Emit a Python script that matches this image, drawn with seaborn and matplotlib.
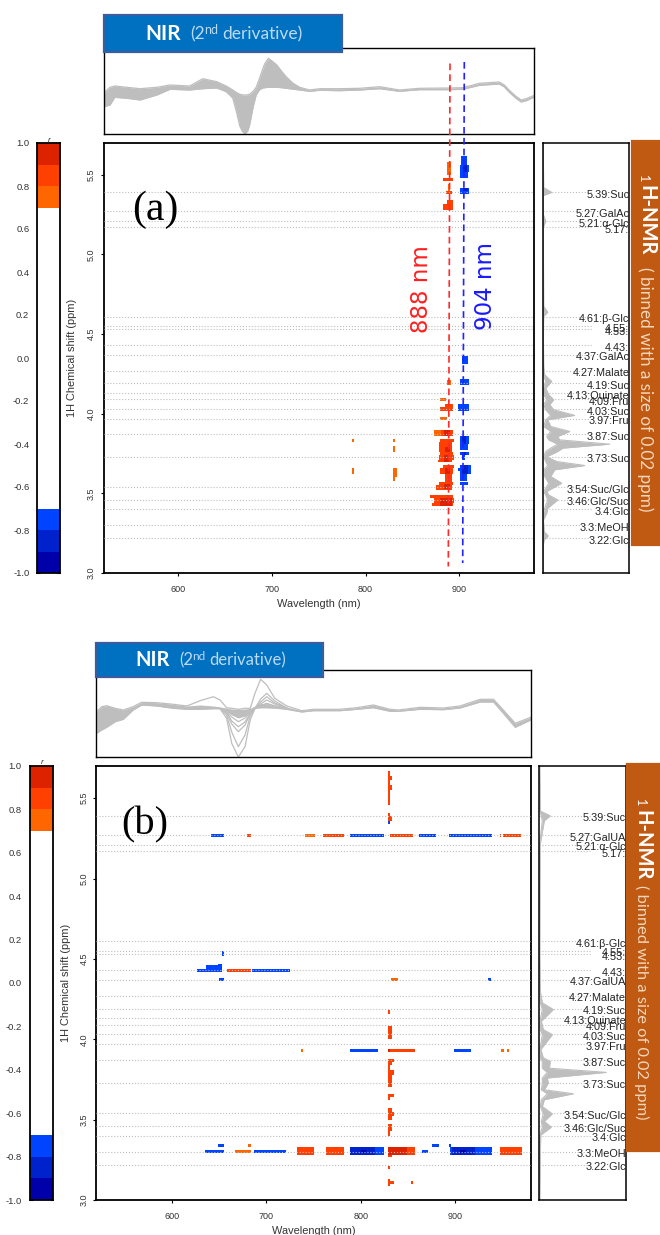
import numpy as np
import pandas as pd
import matplotlib
matplotlib.use("Agg")
import matplotlib.pyplot as plt
import seaborn as sns
from matplotlib.colors import ListedColormap
from matplotlib.lines import Line2D
from matplotlib.patches import Rectangle

# NMR peak assignments, the names are cut off by the orange banner in the picture
nmr_ppm = [5.39, 5.27, 5.21, 5.17, 4.61, 4.55, 4.53, 4.43, 4.37, 4.27, 4.19,
           4.13, 4.09, 4.03, 3.97, 3.87, 3.73, 3.54, 3.46, 3.4, 3.3, 3.22]
nmr_a = ["5.39:Suc", "5.27:GalAc", "5.21:α-Glc", "5.17:", "4.61:β-Glc", "4.55:", "4.53:", "4.43:",
         "4.37:GalAc", "4.27:Malate", "4.19:Suc", "4.13:Quinate", "4.09:Fru", "4.03:Suc", "3.97:Fru",
         "3.87:Suc", "3.73:Suc", "3.54:Suc/Glc", "3.46:Glc/Suc", "3.4:Glc", "3.3:MeOH", "3.22:Glc"]
nmr_b = ["5.39:Suc", "5.27:GalUA", "5.21:α-Glc", "5.17:", "4.61:β-Glc", "4.55:", "4.53:", "4.43:",
         "4.37:GalUA", "4.27:Malate", "4.19:Suc", "4.13:Quinate", "4.09:Fru", "4.03:Suc", "3.97:Fru",
         "3.87:Suc", "3.73:Suc", "3.54:Suc/Glc", "3.46:Glc/Suc", "3.4:Glc", "3.3:MeOH", "3.22:Glc"]

# NIR spectra (a): envelope of the curves
nir_a_wl = [520.5, 527, 532, 545, 559, 577, 591, 612, 626, 641, 651, 658, 662, 665.5, 668, 671, 674, 676, 680, 683,
            686, 689, 692, 696, 700, 705, 710, 715, 722, 729.5, 740, 751, 772, 793.5, 815, 836, 857.5, 889.5,
            903.5, 921.5, 942.5, 948, 953, 960, 966, 972, 980]
nir_a_top = [-2.7, 2.7, 4, 2.7, 1.3, 2.7, 5, 4, 11.3, 8.3, 4, 0, -2.5, -4.3, -4.8, -5, -4.8, -4.3, -1, 2.7,
             10, 18.3, 26, 31.7, 29, 25, 19, 13.3, 7, 2.7, 0, 1.3, 1.3, 1.7, 3.3, 0, 1.7, 2,
             2.3, 6.7, 8, 5, 0, -6, -10, -8.5, -5.3]
nir_a_low = [-16.7, -15, -7.3, -8.3, -10, -5, 0.7, 0, 1.3, 2, -1.7, -8, -22, -36, -41, -44, -41, -35, -16, -5,
             -0.5, 1.7, 2.3, 2.7, 2.7, 2.7, 2.3, 1.7, 0.8, 0, -1.3, -0.3, -0.7, 0, 1.3, -1.3, 0.3, 0.3,
             0.7, 4.7, 6, 3, -2, -8, -12, -10.5, -7]

# NIR spectra (b): envelope of all curves and the dense core of the band
nir_b_wl = [520.4, 525.7, 531, 540, 548.6, 559, 568, 584, 601.6, 616, 630, 644, 651, 658, 663.4, 670.4, 677.5,
            683, 688, 694, 700.5, 709, 721.7, 737.6, 750, 778, 796, 813.4, 831, 840, 863, 887.6, 905, 926.5,
            940.6, 951, 963.6, 980]
nir_b_top = [-1.7, 3.3, 4.3, 1.7, 0, 3.3, 7.7, 7.3, 5.7, 4, 9.3, 13.3, 10, 2.3, 1.7, 0.7, 1.7,
             1.7, 16.7, 30.7, 25, 11.7, 4, -0.7, 0.7, 0.7, 2.3, 5, 0.7, 0, 2.7, 2, 4, 10.7,
             10.7, 0, -13.3, -7.3]
nir_b_low = [-23.3, -20, -17.3, -11.7, -9.3, 0, 5, 4, 1.7, 0.7, 0.7, 1.3, 1.3, -8.3, -33.3, -47, -36.7,
             -10, 1.7, 2.3, 2.3, 2, 0.7, -2, -0.7, -0.7, 0.7, 2.3, -1.3, -1.3, 0.7, 0.3, 2, 8,
             8, -3.3, -17.3, -10]
nir_b_core_top = [-1.7, 3.3, 4.3, 1.7, 0, 3.3, 7.7, 7.3, 5.7, 4, 5, 4, 3, 2, 1, 0.7, 1,
                  1.7, 4, 6, 6, 4, 3, -0.7, 0.7, 0.7, 2.3, 5, 0.7, 0, 2.7, 2, 4, 10.7,
                  10.7, 0, -13.3, -7.3]
nir_b_core_low = [-23.3, -20, -17.3, -11.7, -9.3, 0, 5, 4, 1.7, 0.7, 0.7, 1.3, 1.3, -1, -5, -8, -6,
                  -2, 1.7, 2.3, 2.3, 2, 0.7, -2, -0.7, -0.7, 0.7, 2.3, -1.3, -1.3, 0.7, 0.3, 2, 8,
                  8, -3.3, -17.3, -10]

# single curves that stand out from the band in (b)
nir_b_mid_wl = [644, 651, 658, 663.4, 670.4, 677.5, 683, 688, 694, 700.5, 709, 721.7]
nir_b_mid1 = [2, 1.5, -5, -22, -36.7, -25, -6, 1.5, 5, 6, 4, 1.5]
nir_b_mid2 = [2, 1.5, -3, -14, -21.7, -15, -4, 1.5, 11, 16.7, 9, 2]
nir_b_mid3 = [2, 1.5, -2, -11, -16.7, -12, -3, 1.5, 8, 13.3, 7, 2]
nir_b_mid4 = [2, 1.5, -1, -7, -11.7, -8, -2, 1.5, 6, 10, 6, 2]
nir_b_mid5 = [2, 1.5, 0, -4, -7.3, -5, -1, 1.5, 4, 6.7, 4, 2]

# 1H-NMR traces: ppm, left and right edge of the grey trace
side_a_ppm = [3.0, 3.176, 3.208, 3.233, 3.26, 3.333, 3.375, 3.407, 3.459, 3.49, 3.512, 3.564, 3.606, 3.648, 3.675,
              3.70, 3.73, 3.763, 3.784, 3.809, 3.836, 3.857, 3.889, 3.92, 3.962, 3.99, 4.025, 4.057, 4.088, 4.119,
              4.161, 4.203, 4.245, 4.298, 4.507, 4.612, 4.637, 4.675, 5.17, 5.21, 5.25, 5.37, 5.39, 5.42, 5.7]
side_a_low = [0.3, 0.3, 0.5, 1, 0.5, 0.3, 0.5, 2, 5, 3, 1, 6, 2, 1, 5,
              3, 1, 3, 8, 15, 6, 4, 8, 1, 3, 8, 3, 1, 4, 1,
              0.5, 3, 0.5, 0.5, 0.3, 0.5, 1, 0.5, 0.3, 1, 0.3, 0.5, 1, 0.5, 0.3]
side_a_high = [0.5, 0.5, 1.5, 5.5, 1.5, 0.7, 4, 5, 15, 6, 4, 19, 8, 12, 42,
               14, 4, 15, 20, 67, 17, 15, 27, 8, 5, 32, 11, 7, 11, 6,
               3, 9, 2, 1, 0.6, 1, 5, 1, 0.6, 3, 0.6, 0.7, 9, 1, 0.5]

side_b_ppm = [3.0, 3.198, 3.239, 3.30, 3.405, 3.453, 3.489, 3.536, 3.582, 3.624, 3.661, 3.686, 3.728, 3.759, 3.794,
              3.82, 3.863, 3.884, 3.936, 4.029, 4.06, 4.112, 4.185, 4.227, 4.29, 4.5, 5.21, 5.36, 5.39, 5.42, 5.57, 5.7]
side_b_low = [0.3, 0.5, 0.5, 0.5, 0.5, 3, 2, 4, 1, 2, 8, 2, 3, 3, 8,
              3, 3, 1, 0.7, 3, 1, 0.7, 3, 1, 0.7, 0.3, 0.3, 3, 2, 0.6, 0.5, 0.3]
side_b_high = [0.5, 1, 1, 1, 1.5, 12, 5, 13, 3, 5, 34, 5, 9, 8, 67,
               10, 11, 4, 1.5, 13, 4, 2, 14, 3, 1.2, 0.5, 0.8, 5, 11, 1, 0.8, 0.4]

# correlation blocks (ppm from, ppm to, nm from, nm to), one list per colour class of r
a_pos75 = [(5.50, 5.58, 887, 891), (5.40, 5.44, 888, 890), (3.82, 3.84, 786, 788), (3.62, 3.66, 786, 788),
           (3.82, 3.84, 829, 831), (3.76, 3.80, 829, 831), (3.58, 3.66, 829, 831), (3.60, 3.66, 831, 834),
           (4.08, 4.10, 880, 886), (3.96, 3.98, 880, 887), (3.86, 3.90, 873, 881), (4.18, 4.21, 887, 891)]
a_pos85 = [(5.46, 5.48, 883, 893), (5.38, 5.40, 886, 892), (5.28, 5.32, 883, 893), (5.32, 5.34, 887, 893),
           (4.04, 4.06, 885, 893), (4.02, 4.04, 880, 893), (3.86, 3.90, 881, 893), (3.82, 3.84, 880, 895),
           (3.76, 3.82, 878, 892), (3.74, 3.76, 880, 893), (3.71, 3.74, 879, 895), (3.70, 3.71, 877, 892),
           (3.66, 3.68, 883, 894), (3.62, 3.66, 880, 893), (3.57, 3.62, 885, 892), (3.55, 3.57, 878, 893),
           (3.52, 3.55, 875, 892), (3.47, 3.49, 869, 893), (3.44, 3.47, 873, 895), (3.42, 3.44, 871, 893)]
a_pos95 = [(3.42, 3.47, 880, 892), (3.86, 3.90, 884, 890), (3.76, 3.79, 885, 890), (3.70, 3.74, 884, 889),
           (3.62, 3.66, 885, 890), (3.53, 3.56, 884, 890)]
a_neg75 = [(5.56, 5.62, 902, 908), (5.52, 5.56, 901, 911), (5.48, 5.52, 901, 909), (5.38, 5.42, 901, 911),
           (4.31, 4.36, 903, 910), (4.18, 4.22, 901, 911), (4.02, 4.06, 899, 911), (3.81, 3.86, 901, 911),
           (3.77, 3.81, 901, 910), (3.74, 3.76, 901, 911), (3.71, 3.74, 903, 906), (3.62, 3.68, 901, 913),
           (3.64, 3.66, 899, 901), (3.58, 3.62, 901, 908), (3.55, 3.57, 901, 910)]
a_neg85 = [(5.52, 5.56, 904, 908), (5.40, 5.42, 904, 909), (3.62, 3.68, 903, 909), (3.81, 3.86, 903, 907),
           (3.74, 3.76, 903, 907)]

b_pos75 = [(5.26, 5.28, 741, 752), (4.36, 4.38, 832, 840), (3.92, 3.94, 737, 739), (3.92, 3.94, 949, 952),
           (3.92, 3.94, 955, 957), (3.29, 3.31, 667, 684), (3.33, 3.35, 681, 684)]
b_pos85 = [(5.46, 5.67, 829, 831), (5.61, 5.645, 831, 833), (5.55, 5.58, 831, 833), (5.36, 5.41, 829, 831),
           (5.36, 5.39, 831, 833), (5.26, 5.28, 680, 684), (5.26, 5.28, 760, 782), (5.26, 5.28, 831, 855),
           (5.26, 5.28, 947, 949), (5.26, 5.28, 951, 970), (4.42, 4.44, 658, 684), (4.16, 4.18, 829, 831),
           (4.05, 4.08, 829, 833), (4.00, 4.05, 829, 833), (3.92, 3.94, 831, 858), (3.86, 3.88, 829, 835),
           (3.84, 3.86, 829, 833), (3.81, 3.84, 829, 831), (3.78, 3.81, 829, 835), (3.70, 3.78, 829, 833),
           (3.62, 3.665, 829, 831), (3.645, 3.665, 831, 835), (3.50, 3.57, 829, 833), (3.52, 3.55, 833, 835),
           (3.43, 3.47, 829, 833), (3.40, 3.43, 829, 831), (3.28, 3.33, 733, 750), (3.28, 3.33, 763, 782),
           (3.28, 3.33, 849, 858), (3.27, 3.28, 829, 833), (3.28, 3.33, 947, 971), (3.19, 3.21, 829, 831),
           (3.09, 3.13, 829, 831), (3.105, 3.125, 831, 835), (3.105, 3.125, 853, 855)]
b_pos95 = [(3.92, 3.94, 829, 831), (3.28, 3.33, 829, 849)]
b_neg75 = [(5.34, 5.36, 829, 831), (5.26, 5.28, 641, 655), (5.26, 5.28, 789, 825), (5.26, 5.28, 862, 880),
           (5.26, 5.28, 894, 939), (4.52, 4.55, 653, 655), (4.42, 4.44, 627, 653), (4.44, 4.455, 636, 653),
           (4.455, 4.47, 649, 653), (4.42, 4.44, 685, 725), (4.36, 4.38, 650, 655), (4.36, 4.38, 935, 938),
           (3.92, 3.94, 789, 818), (3.92, 3.94, 899, 917), (3.33, 3.35, 649, 655), (3.29, 3.31, 635, 655),
           (3.29, 3.31, 687, 721), (3.28, 3.33, 815, 825), (3.29, 3.31, 865, 871), (3.33, 3.35, 876, 883),
           (3.33, 3.35, 894, 896), (3.28, 3.33, 895, 939)]
b_neg85 = [(3.28, 3.33, 789, 815), (3.28, 3.33, 897, 921)]
b_neg95 = [(3.29, 3.31, 800, 806), (3.29, 3.31, 905, 912)]

r_ticks = [-1.0, -0.8, -0.6, -0.4, -0.2, 0.0, 0.2, 0.4, 0.6, 0.8, 1.0]
ppm_ticks = [3.0, 3.5, 4.0, 4.5, 5.0, 5.5]
wl_ticks = [600, 700, 800, 900]

sns.set_theme(style="white")
plt.rcParams["font.family"] = ["Liberation Sans", "DejaVu Sans"]

W, H = 660, 1235
fig = plt.figure(figsize=(W / 100, H / 100), dpi=100)

r_colors = ["#0000AA", "#0022CC", "#0044FF"] + ["#FFFFFF"] * 14 + ["#FF6600", "#FF4000", "#DD2200"]
r_cmap = ListedColormap(r_colors)
GREY = "#BEBEBE"
TXT = "#333333"

wl_grid = np.arange(520, 980)
ppm_grid = np.round(np.arange(3.0, 5.7, 0.01), 2)


def axes_px(left, top, right, bottom):
    return fig.add_axes([left / W, 1 - bottom / H, (right - left) / W, (bottom - top) / H])


def box(ax, lw=1.2):
    for s in ax.spines.values():
        s.set_visible(True)
        s.set_color("black")
        s.set_linewidth(lw)


def block_table(groups):
    grid = np.full((len(ppm_grid), len(wl_grid)), np.nan)
    for r, blocks in groups:
        for p0, p1, w0, w1 in blocks:
            i0, i1 = int(round((p0 - 3.0) / 0.01)), int(round((p1 - 3.0) / 0.01))
            j0, j1 = w0 - 520, w1 - 520
            grid[i0:max(i1, i0 + 1), j0:max(j1, j0 + 1)] = r
    return pd.DataFrame(grid, index=ppm_grid, columns=wl_grid)


def draw_colorbar(left, right, top, bottom, label_x):
    ax = axes_px(left, top, right, bottom)
    levels = pd.DataFrame({"r": np.arange(-0.95, 1.0, 0.1)})
    sns.heatmap(levels, ax=ax, cmap=r_cmap, vmin=-1, vmax=1, cbar=False, xticklabels=False, yticklabels=False)
    ax.set_ylim(0, 20)
    box(ax, 1.3)
    ax.set_yticks([(v + 1) * 10 for v in r_ticks])
    ax.set_yticklabels(["%.1f" % v for v in r_ticks], fontsize=6.8, color=TXT)
    ax.tick_params(axis="y", left=True, right=True, direction="in", length=2.2, width=0.8, pad=5.5, color="#222222")
    fig.text(label_x / W, 1 - (top - 3) / H, "r", fontsize=6, style="italic", color=TXT, ha="center", va="center")


def draw_map(pos, groups, ylab_y, ylab_x):
    ax = axes_px(*pos)
    sns.heatmap(block_table(groups), ax=ax, cmap=r_cmap, vmin=-1, vmax=1, cbar=False,
                xticklabels=False, yticklabels=False)
    ax.set_ylim(0, len(ppm_grid))
    box(ax, 1.3)
    for p in nmr_ppm:
        ax.axhline((p - 3.0) / 0.01, color=GREY, ls=":", lw=0.8, zorder=3)
    ax.set_xticks([w - 520 for w in wl_ticks])
    ax.set_xticklabels(wl_ticks, fontsize=6.5, color=TXT, rotation=0)
    ax.set_yticks([(p - 3.0) / 0.01 for p in ppm_ticks])
    ax.set_yticklabels(["%.1f" % p for p in ppm_ticks], fontsize=6.5, color=TXT, rotation=90, va="center")
    ax.tick_params(axis="x", bottom=True, length=2.5, width=0.8, pad=6, color="black")
    ax.tick_params(axis="y", left=True, length=2.5, width=0.8, pad=3, color="black")
    ax.set_xlabel("Wavelength (nm)", fontsize=7.9, color=TXT, labelpad=3.5)
    ax.set_ylabel("")
    fig.text(ylab_x / W, 1 - ylab_y / H, "1H Chemical shift (ppm)", fontsize=7.9, color=TXT,
             rotation=90, ha="center", va="center")
    return ax


def draw_nir(pos, wl, top, low, ylim, fill_top=None, fill_low=None, extra=None):
    ax = axes_px(*pos)
    ax.fill_between(wl, fill_low or low, fill_top or top, color=GREY, lw=0)
    frame = [pd.DataFrame({"wl": wl, "v": top, "curve": "top"}), pd.DataFrame({"wl": wl, "v": low, "curve": "low"})]
    if extra:
        for k, (w, v) in enumerate(extra):
            frame.append(pd.DataFrame({"wl": w, "v": v, "curve": "c%d" % k}))
    sns.lineplot(data=pd.concat(frame), x="wl", y="v", units="curve", estimator=None, color=GREY,
                 lw=0.9, ax=ax, legend=False)
    ax.set_xlim(520, 980)
    ax.set_ylim(*ylim)
    ax.set(xticks=[], yticks=[], xlabel="", ylabel="")
    box(ax, 1.0)


def draw_side(pos, ppm, low, high, labels):
    ax = axes_px(*pos)
    ax.fill_betweenx(ppm, low, high, color=GREY, lw=0)
    sns.lineplot(x=high, y=ppm, orient="y", sort=False, estimator=None, color=GREY, lw=0.8, ax=ax)
    sns.lineplot(x=low, y=ppm, orient="y", sort=False, estimator=None, color=GREY, lw=0.8, ax=ax)
    ax.set_xlim(0, pos[2] - pos[0])
    ax.set_ylim(3.0, 5.7)
    ax.set(xticks=[], yticks=[], xlabel="", ylabel="")
    box(ax, 1.1)
    for p, lab in zip(nmr_ppm, labels):
        ax.plot([0, 0.58 * (pos[2] - pos[0])], [p, p], color=GREY, ls=":", lw=0.8)
        ax.annotate(lab, (pos[2] - pos[0], p), xytext=(0, -1.9), textcoords="offset points", ha="right", va="center",
                    fontsize=7.8, color="#222222", annotation_clip=False, clip_on=True)


def banner(x0, y0, x1, y1, face, edge=None):
    fig.add_artist(Rectangle((x0 / W, 1 - y1 / H), (x1 - x0) / W, (y1 - y0) / H, transform=fig.transFigure,
                             facecolor=face, edgecolor=edge or face, linewidth=1.6, zorder=5))


def ptext(x, y, s, **kw):
    fig.text(x / W, 1 - y / H, s, zorder=6, **kw)


def nir_title(nir_x, y, size, paren_x, nd_x, der_x):
    ptext(nir_x, y, "NIR", fontsize=size, fontweight="bold", color="white", family="Lato", ha="left", va="center")
    sub = dict(color="#BCDAF2", family="Lato", fontweight="normal", ha="left", va="center")
    ptext(paren_x, y, "(2", fontsize=size - 2.5, **sub)
    ptext(nd_x, y - 4, "nd", fontsize=size - 6, **sub)
    ptext(der_x, y, "derivative)", fontsize=size - 2.5, **sub)


def nmr_title(x, y_one, y_h, y_phrase, size):
    kw = dict(rotation=-90, ha="center", family="Lato", va="top")
    ptext(x - 3, y_one, "1", fontsize=9, color="white", **kw)
    ptext(x, y_h, "H-NMR", fontsize=14.5, fontweight="bold", color="white", **kw)
    ptext(x - 1, y_phrase, "( binned with a size of 0.02 ppm)", fontsize=size, color="#F2D6BC",
          fontweight="normal", **kw)


# panel (a)
draw_colorbar(37, 60, 143, 573, 49)
draw_map((103.5, 143, 534, 573), [(0.75, a_pos75), (0.85, a_pos85), (0.95, a_pos95),
                                  (-0.75, a_neg75), (-0.85, a_neg85)], 358, 72)
draw_nir((103.5, 48.3, 534.3, 134.3), nir_a_wl, nir_a_top, nir_a_low, (-44.3, 41.7))
draw_side((542.7, 143, 629.3, 573), side_a_ppm, side_a_low, side_a_high, nmr_a)

# panel (b)
draw_colorbar(29.5, 52.5, 766, 1200, 42)
draw_map((96.3, 766, 530.7, 1200), [(0.75, b_pos75), (0.85, b_pos85), (0.95, b_pos95),
                                    (-0.75, b_neg75), (-0.85, b_neg85), (-0.95, b_neg95)], 983, 66)
draw_nir((96.3, 670.3, 530.7, 757), nir_b_wl, nir_b_top, nir_b_low, (-47, 39.7),
         fill_top=nir_b_core_top, fill_low=nir_b_core_low,
         extra=[(nir_b_mid_wl, nir_b_mid1), (nir_b_mid_wl, nir_b_mid2), (nir_b_mid_wl, nir_b_mid3),
                (nir_b_mid_wl, nir_b_mid4), (nir_b_mid_wl, nir_b_mid5)])
draw_side((539.3, 766, 626, 1200), side_b_ppm, side_b_low, side_b_high, nmr_b)

# banners and the text on them
banner(104, 15.5, 342, 52, "#0070C0", "#3B5C9E")
nir_title(145, 34.5, 15, 190, 204, 222)
banner(96, 643, 323, 676.5, "#0070C0", "#3B5C9E")
nir_title(135, 660.5, 14.5, 179, 192, 209)
banner(631.5, 140.5, 660, 545, "#C05A12")
nmr_title(646, 175, 185, 267, 12.3)
banner(627, 763.5, 660, 1151, "#C05A12")
nmr_title(642.5, 799, 810, 885, 11.8)

# the two wavelengths marked by hand in panel (a)
for (x0, y0, x1, y1, c) in [(450, 63.5, 448.3, 566.5, "#FF2A2A"), (464.3, 62, 462.7, 563, "#2222FF")]:
    fig.add_artist(Line2D([x0 / W, x1 / W], [1 - y0 / H, 1 - y1 / H], transform=fig.transFigure, color=c,
                          lw=1.2, ls=(0, (4, 2.5)), zorder=4))
ptext(422, 289, "888 nm", fontsize=16.5, color="#FF2020", rotation=90, family="DejaVu Sans", ha="center", va="center")
ptext(486, 286.5, "904 nm", fontsize=16.5, color="#1A1AFF", rotation=90, family="DejaVu Sans", ha="center", va="center")

ptext(155, 210, "(a)", fontsize=30, color="black", family="Liberation Serif", ha="center", va="center")
ptext(145, 825, "(b)", fontsize=29, color="black", family="Liberation Serif", ha="center", va="center")

fig.savefig("out.png", dpi=100)
